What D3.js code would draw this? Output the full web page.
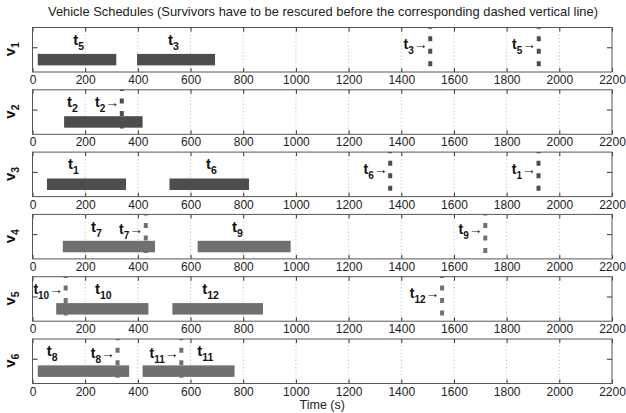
<!DOCTYPE html>
<html>
<head>
<meta charset="utf-8">
<script src="https://cdn.jsdelivr.net/npm/d3@7"></script>
<style>
  html, body { margin: 0; padding: 0; background: #fff; }
  svg { display: block; font-family: "Liberation Sans", Arial, sans-serif; }
</style>
</head>
<body>
<svg id="chart" width="626" height="413"></svg>
<script>
// Vehicle ids (one panel per vehicle)
const vehicles = ["1", "2", "3", "4", "5", "6"];

// Tasks carried out by each vehicle: subscript, start time and end time (s)
const taskIds   = [["5", "3"], ["2"], ["1", "6"], ["7", "9"], ["10", "12"], ["8", "11"]];
const taskStart = [[20, 397], [120], [55, 520], [115, 627], [90, 531], [20, 418]];
const taskEnd   = [[318, 693], [418], [355, 822], [465, 980], [440, 875], [367, 767]];
// Time at which each task's label is written
const taskLabelTime = [[155, 514], [131], [135, 659], [222, 757], [237, 644], [54, 625]];

// Rescue deadlines shown in each panel: task subscript and deadline time (s)
const deadlineIds  = [["3", "5"], ["2"], ["6", "1"], ["7", "9"], ["10", "12"], ["8", "11"]];
const deadlineTime = [[1510, 1922], [339], [1358, 1921], [430, 1719], [126, 1555], [323, 565]];
// Height (axis units) of each deadline label
const deadlineLabelLevel = [[0.93, 0.93], [1.1], [0.93, 0.93], [1.0, 1.0], [1.1, 0.93], [1.05, 1.05]];

// Axis ticks
const xTicks = [0, 200, 400, 600, 800, 1000, 1200, 1400, 1600, 1800, 2000, 2200];
const xDomain = [0, 2200];
const yDomain = [0, 1.8];
const yTicks = [1];
const barLevel = 0.5;
const taskLabelLevel = 1.1;

const titleText = "Vehicle Schedules (Survivors have to be rescured before the corresponding dashed vertical line)";
const xLabelText = "Time (s)";

// ---- layout ----
const left = 32.5, right = 612;
const firstTop = 27.5, pitch = 62.3, panelH = 44.5;
const darkGray = "#4d4d4d", lightGray = "#707070";

const svg = d3.select("#chart");

const x = d3.scaleLinear().domain(xDomain).range([left, right]);
const y = d3.scaleLinear().domain(yDomain).range([panelH, 0]);

svg.append("text")
  .attr("x", 323)
  .attr("y", 16)
  .attr("text-anchor", "middle")
  .attr("font-size", 12.2)
  .attr("textLength", 550)
  .attr("lengthAdjust", "spacingAndGlyphs")
  .attr("fill", "#222")
  .text(titleText);

// writes "t" with a subscript, optionally followed by an arrow
function subLabel(sel, base, sub, arrow, bigSize, smallSize, weight) {
  sel.attr("font-weight", weight);
  sel.append("tspan").attr("font-size", bigSize).text(base);
  sel.append("tspan").attr("font-size", smallSize).attr("dy", 5).text(sub);
  if (arrow) {
    sel.append("tspan").attr("font-size", bigSize).attr("font-weight", "normal")
      .attr("dy", -5).text("\u2192");
  }
}

vehicles.forEach((v, i) => {
  const top = firstTop + pitch * i;
  const g = svg.append("g").attr("transform", `translate(0,${top})`);
  const color = i < 3 ? darkGray : lightGray;

  // dotted vertical grid
  g.append("g").selectAll("line")
    .data(xTicks.filter(t => t > xDomain[0] && t < xDomain[1]))
    .join("line")
    .attr("x1", d => x(d)).attr("x2", d => x(d))
    .attr("y1", 0).attr("y2", panelH)
    .attr("stroke", "#a8a8a8").attr("stroke-width", 0.8)
    .attr("stroke-dasharray", "1,2.5");

  // bottom axis with inward ticks and labels
  const xAxis = d3.axisBottom(x).tickValues(xTicks).tickFormat(d3.format("d"))
    .tickSizeInner(-4).tickSizeOuter(0).tickPadding(3.5);
  const ax = g.append("g").attr("transform", `translate(0,${panelH})`).call(xAxis);
  ax.select(".domain").remove();
  ax.selectAll(".tick line").attr("stroke", "#333");
  ax.selectAll(".tick text").attr("font-size", 12).attr("fill", "#222")
    .attr("font-family", "Liberation Sans, Arial, sans-serif");

  // top ticks
  const topAxis = d3.axisTop(x).tickValues(xTicks).tickFormat("").tickSizeInner(-4).tickSizeOuter(0);
  const at = g.append("g").call(topAxis);
  at.select(".domain").remove();
  at.selectAll(".tick line").attr("stroke", "#333");

  // left / right ticks
  const la = g.append("g").attr("transform", `translate(${left},0)`)
    .call(d3.axisLeft(y).tickValues(yTicks).tickFormat("").tickSizeInner(-5).tickSizeOuter(0));
  la.select(".domain").remove();
  la.selectAll(".tick line").attr("stroke", "#333");
  const ra = g.append("g").attr("transform", `translate(${right},0)`)
    .call(d3.axisRight(y).tickValues(yTicks).tickFormat("").tickSizeInner(-5).tickSizeOuter(0));
  ra.select(".domain").remove();
  ra.selectAll(".tick line").attr("stroke", "#333");

  // task bars
  const tasks = taskIds[i].map((id, k) => ({ id, s: taskStart[i][k], e: taskEnd[i][k], lx: taskLabelTime[i][k] }));
  const barH = 11.5;
  g.append("g").selectAll("rect")
    .data(tasks).join("rect")
    .attr("x", d => x(d.s))
    .attr("width", d => x(d.e) - x(d.s))
    .attr("y", y(barLevel) - barH / 2)
    .attr("height", barH)
    .attr("fill", color);

  // deadline lines
  const deadlines = deadlineIds[i].map((id, k) => ({ id, t: deadlineTime[i][k], lv: deadlineLabelLevel[i][k] }));
  g.append("g").selectAll("line")
    .data(deadlines).join("line")
    .attr("x1", d => x(d.t)).attr("x2", d => x(d.t))
    .attr("y1", y(yDomain[1])).attr("y2", y(yDomain[0]))
    .attr("stroke", color).attr("stroke-width", 4)
    .attr("stroke-dasharray", "5,7.5").attr("stroke-dashoffset", 3.8);

  // task labels
  tasks.forEach(d => {
    const t = g.append("text").attr("x", x(d.lx)).attr("y", y(taskLabelLevel)).attr("fill", "#111");
    subLabel(t, "t", d.id, false, 15, 10.5, "bold");
  });

  // deadline labels, ending with an arrow at the line
  deadlines.forEach(d => {
    const t = g.append("text").attr("x", x(d.t) - 2.5).attr("y", y(d.lv))
      .attr("text-anchor", "end").attr("fill", "#111");
    subLabel(t, "t", d.id, true, 14, 10, "bold");
  });

  // frame
  g.append("rect").attr("x", left).attr("y", 0)
    .attr("width", right - left).attr("height", panelH)
    .attr("fill", "none").attr("stroke", "#555").attr("stroke-width", 1);

  // vehicle label
  const yl = g.append("text")
    .attr("transform", `translate(15,${y(1) + 2}) rotate(-90)`)
    .attr("text-anchor", "middle").attr("fill", "#111");
  yl.attr("font-weight", "bold");
  yl.append("tspan").attr("font-size", 15).text("v");
  yl.append("tspan").attr("font-size", 10.5).attr("dy", 4).text(v);
});

svg.append("text")
  .attr("x", (left + right) / 2)
  .attr("y", 409)
  .attr("text-anchor", "middle")
  .attr("font-size", 12.5)
  .attr("fill", "#222")
  .text(xLabelText);
</script>
</body>
</html>
